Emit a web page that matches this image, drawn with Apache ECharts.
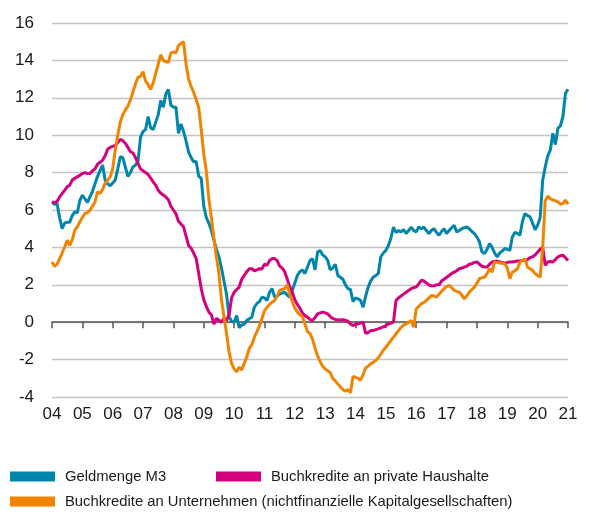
<!DOCTYPE html>
<html>
<head>
<meta charset="utf-8">
<script src="https://cdn.jsdelivr.net/npm/echarts@6/dist/echarts.min.js"></script>
<style>
  html, body { margin: 0; background: #fff; }
  #chart { width: 590px; height: 515px; }
</style>
</head>
<body>
<div id="chart"></div>
<script>
// Monatswerte, Veränderung gegenüber Vorjahr in %, Jan 2004 bis Jan 2021
const names = [
  'Geldmenge M3',
  'Buchkredite an private Haushalte',
  'Buchkredite an Unternehmen (nichtfinanzielle Kapitalgesellschaften)'
];
const colors = ['#0086ad', '#d5007f', '#f08300'];
const yTicks = [-4, -2, 0, 2, 4, 6, 8, 10, 12, 14, 16];

const geldmenge = [
  6.43, 6.3, 6.35, 5.6, 5.0, 5.3, 5.35, 5.35, 5.7, 5.9, 5.85, 6.5,
  6.8, 6.6, 6.4, 6.7, 7.0, 7.4, 7.8, 8.1, 8.4, 7.6, 7.4, 7.3,
  7.45, 7.6, 8.2, 8.85, 8.8, 8.3, 7.8, 8.0, 8.3, 8.4, 8.6, 9.9,
  10.2, 10.3, 11.0, 10.4, 10.3, 10.7, 11.1, 11.85, 11.5, 12.2, 12.45, 11.6,
  11.5, 11.5, 10.1, 10.6, 10.2, 9.7, 9.1, 8.8, 8.58, 8.6, 7.8, 7.7,
  6.2, 5.6, 5.3, 4.9, 4.4, 3.9, 3.5, 2.9, 2.2, 1.5, 0.3, 0.05,
  0.0, 0.36, -0.3, -0.15, -0.1, 0.1, 0.18, 0.27, 0.8, 1.0, 1.1, 1.34,
  1.3, 1.16, 1.6, 1.8, 1.34, 1.4, 1.5, 1.55, 1.6, 1.45, 1.34, 1.7,
  2.1, 2.5, 2.7, 2.8, 2.6, 2.95, 3.3, 3.4, 2.8, 3.75, 3.84, 3.6,
  3.5, 3.3, 2.8, 2.9, 3.1, 2.5, 2.4, 2.3, 2.0, 1.8, 1.75, 1.1,
  1.3, 1.25, 1.16, 0.8, 1.4, 1.88, 2.2, 2.41, 2.5, 2.6, 3.5, 3.7,
  3.84, 4.1, 4.5, 5.09, 4.8, 4.9, 4.83, 4.95, 4.74, 4.9, 5.09, 4.9,
  4.83, 5.09, 5.0, 5.09, 4.9, 4.74, 4.9, 5.0, 4.8, 4.65, 4.85, 5.0,
  4.74, 4.9, 5.05, 5.18, 4.83, 4.9, 5.0, 5.05, 5.09, 5.0, 4.85, 4.74,
  4.55, 4.3, 3.75, 3.67, 3.9, 4.2, 4.0, 3.7, 3.49, 3.7, 3.8, 3.94,
  3.9, 3.84, 4.56, 4.8, 4.75, 4.65, 5.4, 5.81, 5.7, 5.63, 5.3, 4.95,
  5.18, 5.6, 7.6, 8.3, 8.9, 9.2, 10.1, 9.5, 10.37, 10.5, 11.0, 12.25,
  12.46
];

const haushalte = [
  6.43, 6.4, 6.45, 6.7, 6.88, 7.05, 7.24, 7.33, 7.6, 7.7, 7.77, 7.85,
  7.95, 8.0, 7.95, 7.95, 8.1, 8.2, 8.45, 8.55, 8.67, 8.9, 9.25, 9.35,
  9.4, 9.45, 9.6, 9.78, 9.7, 9.57, 9.35, 9.12, 9.05, 8.8, 8.5, 8.2,
  8.1, 8.0, 7.9, 7.7, 7.5, 7.33, 7.05, 6.9, 6.8, 6.7, 6.55, 6.2,
  6.0, 5.8, 5.4, 5.25, 5.1, 4.6, 4.1, 3.95, 3.7, 3.4, 2.6, 1.8,
  1.2, 0.85, 0.55, 0.4, -0.1, 0.2, 0.1, 0.0, 0.2, 0.1, 0.4, 1.3,
  1.6, 1.75, 1.88, 2.3, 2.5, 2.7, 2.86, 2.86, 2.75, 2.8, 2.86, 2.85,
  3.1, 3.04, 3.3, 3.4, 3.4, 3.3, 3.0, 2.9, 2.7, 2.3, 1.9, 1.6,
  1.2, 0.95, 0.75, 0.5, 0.35, 0.27, 0.15, 0.09, 0.25, 0.45, 0.5, 0.54,
  0.5, 0.45, 0.3, 0.2, 0.15, 0.13, 0.12, 0.13, 0.1, 0.05, -0.1, -0.18,
  -0.12, -0.09, -0.05, 0.0, -0.6, -0.55, -0.45, -0.45, -0.4, -0.36, -0.3, -0.25,
  -0.18, -0.1, -0.05, 0.0, 1.16, 1.3, 1.4, 1.5, 1.6, 1.7, 1.79, 1.85,
  1.88, 2.05, 2.24, 2.2, 2.1, 2.0, 1.94, 1.95, 2.0, 2.0, 2.2, 2.3,
  2.4, 2.5, 2.6, 2.68, 2.75, 2.86, 2.9, 2.95, 3.0, 3.1, 3.13, 3.2,
  3.22, 3.1, 2.99, 2.95, 2.95, 3.1, 3.22, 3.25, 3.27, 3.22, 3.2, 3.16,
  3.2, 3.22, 3.22, 3.25, 3.27, 3.27, 3.3, 3.3, 3.35, 3.45, 3.5, 3.6,
  3.75, 3.9, 4.0, 3.04, 3.22, 3.25, 3.22, 3.35, 3.49, 3.55, 3.58, 3.45,
  3.3
];

const unternehmen = [
  3.22, 2.99, 3.1, 3.4, 3.7, 4.02, 4.38, 4.11, 4.4, 4.92, 5.1, 5.36,
  5.6, 5.81, 5.85, 5.99, 6.2, 6.43, 6.97, 6.88, 7.1, 7.42, 7.6, 7.77,
  8.2, 9.2, 10.0, 10.7, 11.1, 11.35, 11.55, 11.9, 12.3, 12.75, 13.1, 13.15,
  13.4, 12.9, 12.7, 12.45, 12.8, 13.3, 13.8, 14.3, 14.0, 13.94, 13.9, 14.4,
  14.45, 14.4, 14.8, 14.9, 15.0, 13.8, 13.0, 12.6, 12.3, 11.9, 11.5, 10.3,
  9.0, 8.1, 6.6, 5.6, 4.5, 3.5, 2.6, 1.2, 0.3, -0.6, -1.6, -2.2,
  -2.5, -2.65, -2.41, -2.55, -2.2, -1.85, -1.4, -1.2, -0.8, -0.5, -0.2, 0.2,
  0.6, 0.8, 0.95, 1.07, 1.16, 1.4, 1.7, 1.75, 1.8, 2.0, 1.5, 1.1,
  0.75, 0.54, 0.4, 0.3, -0.1, -0.5, -0.6, -0.9, -1.4, -1.8, -2.1, -2.35,
  -2.5, -2.59, -2.7, -3.0, -3.15, -3.3, -3.45, -3.6, -3.7, -3.6, -3.78, -2.9,
  -2.95, -3.0, -3.1, -2.8, -2.45, -2.35, -2.23, -2.15, -2.05, -1.9, -1.7, -1.5,
  -1.34, -1.15, -0.98, -0.8, -0.62, -0.45, -0.27, -0.15, -0.09, 0.0, 0.09, -0.27,
  0.72, 0.85, 0.99, 1.05, 1.16, 1.3, 1.43, 1.4, 1.34, 1.5, 1.65, 1.79,
  1.9, 1.97, 1.85, 1.7, 1.65, 1.61, 1.45, 1.25, 1.4, 1.61, 1.75, 1.88,
  2.1, 2.33, 2.38, 2.41, 2.6, 2.86, 2.68, 3.22, 3.2, 3.16, 3.15, 3.13,
  2.9, 2.33, 2.68, 2.75, 2.86, 3.22, 3.3, 3.4, 2.95, 2.85, 2.77, 2.6,
  2.5, 2.41, 4.0, 6.5, 6.74, 6.6, 6.53, 6.5, 6.43, 6.31, 6.35, 6.53,
  6.31
];

// Monatskategorien Jan 2004 .. Jan 2021
const months = [];
for (let y = 2004; y <= 2021; y++) {
  for (let m = 1; m <= 12; m++) {
    if (y === 2021 && m > 1) break;
    months.push(y + '-' + (m < 10 ? '0' + m : m));
  }
}

const axisFont = 'Liberation Sans, Arial, sans-serif';

// Legende im Original schmal gesetzt; ohne Narrow-Schrift kleiner setzen
function hasFont(name) {
  const ctx = document.createElement('canvas').getContext('2d');
  ctx.font = '20px monospace';
  const base = ctx.measureText('Buchkredite an Unternehmen').width;
  ctx.font = '20px "' + name + '", monospace';
  return ctx.measureText('Buchkredite an Unternehmen').width !== base;
}
const narrow = hasFont('Liberation Sans Narrow');
const legendFont = narrow ? '"Liberation Sans Narrow", sans-serif' : '"Liberation Sans", sans-serif';
const legendSize = narrow ? 17 : 14.8;

const isYearStart = (index) => index % 12 === 0;

const chart = echarts.init(document.getElementById('chart'));
chart.setOption({
  animation: false,
  color: colors,
  grid: { left: 52, right: 22, top: 23, bottom: 118 },
  legend: [
    { data: [names[0]], left: 10, top: 469 },
    { data: [names[1]], left: 216, top: 469 },
    { data: [names[2]], left: 10, top: 494 }
  ].map(l => Object.assign(l, {
    padding: 0,
    icon: 'rect',
    itemWidth: 45,
    itemHeight: 10,
    textStyle: { fontFamily: legendFont, fontSize: legendSize, color: '#1a1a1a', padding: [0, 0, 0, 5] }
  })),
  xAxis: [
    {
      type: 'category',
      data: months,
      boundaryGap: false,
      axisLine: { onZero: true, lineStyle: { color: '#555', width: 1.5 } },
      axisTick: { interval: isYearStart, length: 6, lineStyle: { color: '#555', width: 1.5 } },
      axisLabel: { show: false }
    },
    {
      type: 'category',
      data: months,
      boundaryGap: false,
      position: 'bottom',
      axisLine: { show: false, onZero: false },
      axisTick: { show: false },
      axisLabel: {
        interval: isYearStart,
        margin: 9,
        fontFamily: axisFont,
        fontSize: 17,
        color: '#1a1a1a',
        formatter: v => v.slice(2, 4)
      }
    }
  ],
  yAxis: {
    type: 'value',
    min: yTicks[0],
    max: yTicks[yTicks.length - 1],
    interval: 2,
    axisLine: { show: false },
    axisTick: { show: false },
    axisLabel: { margin: 18, fontFamily: axisFont, fontSize: 17, color: '#1a1a1a' },
    splitLine: { lineStyle: { color: '#c4c4c4', width: 1.3 } }
  },
  series: [
    { name: names[0], data: geldmenge },
    { name: names[1], data: haushalte },
    { name: names[2], data: unternehmen }
  ].map(s => Object.assign(s, {
    type: 'line',
    xAxisIndex: 0,
    showSymbol: false,
    lineStyle: { width: 3 }
  }))
});
</script>
</body>
</html>
